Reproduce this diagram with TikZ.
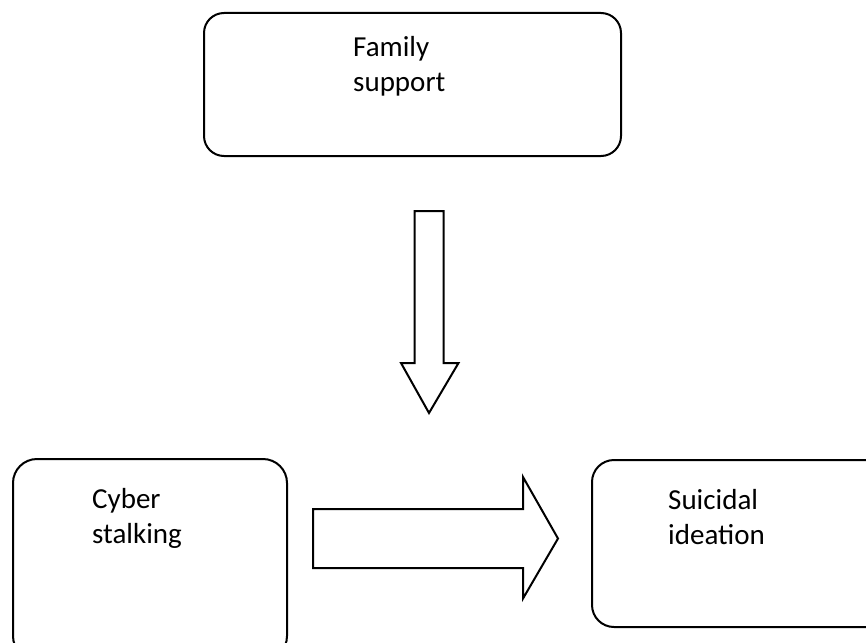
\documentclass[tikz,border=0pt]{standalone}
\usepackage{fontspec}
\setmainfont{Carlito}
\usepackage{tikz}
\usetikzlibrary{calc}

\tikzset{
  box/.style={draw, line width=2pt, rounded corners=20pt, inner sep=0pt},
  lbl/.style={font=\fontsize{29}{35}\selectfont, align=left, anchor=base west, inner sep=0pt},
  blockarrow/.style={draw, line width=2pt, line join=miter}
}

\begin{document}
\begin{tikzpicture}[x=1pt, y=-1pt]
  % page frame, the two lower boxes run past it
  \useasboundingbox (0,0) rectangle (866,642);
  \clip (0,0) rectangle (866,642);
  % Boxes
  \node[box, minimum width=417pt, minimum height=143pt] (family) at (412.5,84.5) {};
  \node[box, rounded corners=24pt, minimum width=274pt, minimum height=201pt] (cyber) at (150,559.5) {};
  \node[box, rounded corners=22pt, minimum width=298pt, minimum height=167pt] (suicidal) at (741,543.5) {};
  % Labels (anchored on the baseline of the second line)
  \node[lbl] (familytext) at (353,91) {Family\\support};
  \node[lbl] (cybertext) at (92,543) {Cyber\\stalking};
  \node[lbl] (suicidaltext) at (668,544) {Suicidal\\ideation};
  % Block arrow from family support down
  \coordinate (dtail) at (429,211);
  \draw[blockarrow] ($(dtail)+(-14.5,0)$) -- ++(29,0) -- ++(0,152) -- ++(15,0)
    -- ($(dtail)+(0,202)$) -- ($(dtail)+(-28,152)$) -- ++(13.5,0) -- cycle;
  % Block arrow from cyber stalking to suicidal ideation
  \coordinate (rtail) at (313,538.5);
  \draw[blockarrow] ($(rtail)+(0,-29.5)$) -- ++(210,0) -- ++(0,-32) -- ($(rtail)+(245,0)$)
    -- ($(rtail)+(210,60)$) -- ++(0,-30.5) -- ++(-210,0) -- cycle;
\end{tikzpicture}
\end{document}
